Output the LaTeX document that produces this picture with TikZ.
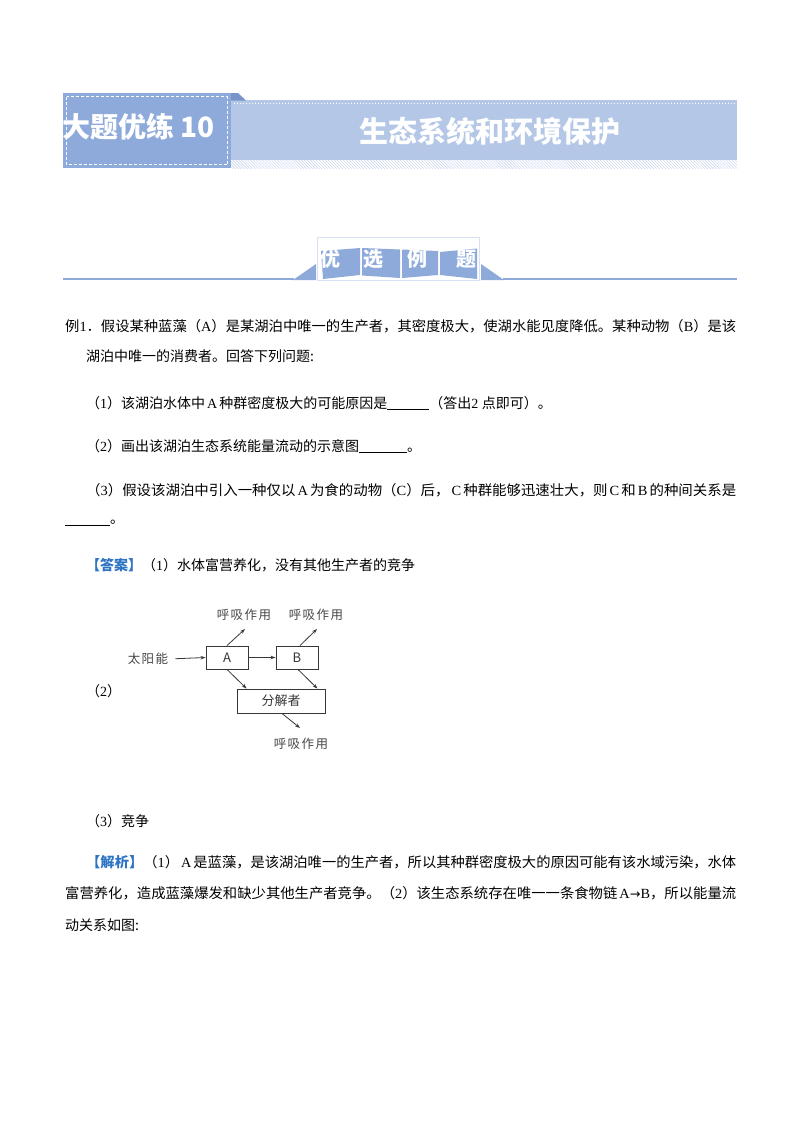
\documentclass[tikz,border=0pt]{standalone}
\usepackage{graphicx}
\usepackage{fontspec}
\setmainfont{Noto Sans CJK SC}
\newfontfamily\tnr{Liberation Serif}
\newfontfamily\djv{DejaVu Sans}
\newfontfamily\dfont[LetterSpace=12]{Noto Sans CJK SC}
\usetikzlibrary{arrows.meta,patterns}
\newcommand{\jline}[2]{\resizebox{#1}{\height}{#2}}
\newcommand{\tm}[1]{{\tnr #1}}
\newcommand{\tms}[1]{\hspace{2bp}{\tnr #1}\hspace{2bp}}
\newcommand{\blank}[1]{\rule[-1.5bp]{#1}{0.6bp}}
\definecolor{hdark}{RGB}{142,170,219}
\definecolor{hlight}{RGB}{180,199,231}
\definecolor{hfold}{RGB}{120,148,200}
\definecolor{ansblue}{RGB}{46,116,196}
\definecolor{dline}{RGB}{55,55,55}
\definecolor{dtext}{RGB}{70,70,70}
\tikzset{
  body/.style={anchor=west, inner sep=0pt, font=\fontsize{14bp}{17bp}\selectfont},
  hdtext/.style={text=white, inner sep=0pt, font=\bfseries\fontsize{28bp}{30bp}\selectfont},
  sectext/.style={text=white, inner sep=0pt, font=\bfseries\fontsize{20bp}{22bp}\selectfont},
  dbox/.style={draw=dline, line width=0.9bp, inner sep=0pt, text=dline, font=\fontsize{13bp}{15bp}\selectfont},
  dlab/.style={inner sep=0pt, text=dtext, font=\dfont\fontsize{12.5bp}{14bp}\selectfont},
  arr/.style={draw=dline, line width=0.8bp, -{Stealth[length=5bp,width=3.5bp]}}
}
\begin{document}
\begin{tikzpicture}[x=1bp,y=-1bp]
\useasboundingbox (0,0) rectangle (800,1132);
\fill[white] (0,0) rectangle (800,1132);

% ---------- header ----------
\fill[hlight] (231,100) rectangle (737,160);
\fill[pattern=north west lines, pattern color=hlight!80] (231,160) rectangle (737,168);
\draw[white, dotted, line width=1bp] (234,103.5) -- (737,103.5);
\fill[hfold] (230,93) -- (238,93) -- (246,100.5) -- (230,100.5) -- cycle;
\fill[hdark] (63,93) rectangle (231,168);
\draw[white, dash pattern=on 3bp off 2bp, line width=0.8bp] (66.5,96.5) rectangle (227.5,164.5);
\node[hdtext, anchor=west] (h1) at (62,127) {大题优练 10};
\node[hdtext, font=\bfseries\fontsize{29bp}{31bp}\selectfont] (h2) at (490,131) {生态系统和环境保护};

% ---------- section banner ----------
\draw[hdark, line width=2bp] (63,279) -- (294,279);
\fill[hdark] (293,280) -- (316,264) -- (316,280) -- cycle;
\fill[hdark] (481,264) -- (504,280) -- (481,280) -- cycle;
\draw[hdark, line width=2bp] (503,279) -- (737,279);
\draw[hdark!35, line width=0.8bp] (317,237) rectangle (479,280);
\fill[hdark] (321,251) -- (360,248) -- (360,275) -- (323,279) -- cycle;
\fill[hdark] (362,248) -- (400,249.5) -- (400,278) -- (362,275.5) -- cycle;
\fill[hdark] (402,249.5) -- (438,251) -- (438,275) -- (402,278) -- cycle;
\fill[hdark] (440,252) -- (477,248.5) -- (477,279) -- (440,275) -- cycle;
\begin{scope}
\clip (321,238) rectangle (478,282);
\node[sectext] (s1) at (330,259) {优};
\node[sectext] (s2) at (373,259) {选};
\node[sectext] (s3) at (417,259) {例};
\node[sectext] (s4) at (466,259) {题};
\end{scope}

% ---------- question ----------
\node[body] (l1) at (65,326) {\jline{671bp}{例\tm{1}．假设某种蓝藻（\tm{A}）是某湖泊中唯一的生产者，其密度极大，使湖水能见度降低。某种动物（\tm{B}）是该}};
\node[body] (l2) at (86,356) {湖泊中唯一的消费者。回答下列问题:};
\node[body] (l3) at (86,403) {（\tm{1}）该湖泊水体中\tms{A}种群密度极大的可能原因是\blank{42bp}（答出\tm{2 }点即可）。};
\node[body] (l4) at (86,446) {（\tm{2}）画出该湖泊生态系统能量流动的示意图\blank{48bp}。};
\node[body] (l5) at (86,490) {\jline{650bp}{（\tm{3}）假设该湖泊中引入一种仅以\tms{A}为食的动物（\tm{C}）后，\tms{C}种群能够迅速壮大，则\tms{C}和\tms{B}的种间关系是}};
\node[body] (l6) at (65,523) {\blank{45bp}。};

% ---------- answer ----------
\node[body] (l7) at (86,565) {{\color{ansblue}\bfseries 【答案】}（\tm{1}）水体富营养化，没有其他生产者的竞争};
\node[body] (q2) at (86,691) {（\tm{2}）};

% diagram
\node[dlab] (S) at (148,659) {太阳能};
\node[dbox, minimum width=42bp, minimum height=23bp] (A) at (227,657.5) {A};
\node[dbox, minimum width=42bp, minimum height=23bp] (B) at (297,657.5) {B};
\node[dbox, minimum width=88bp, minimum height=24bp] (D) at (281,701) {分解者};
\node[dlab] (R1) at (244,615) {呼吸作用};
\node[dlab] (R2) at (316,615) {呼吸作用};
\node[dlab] (R3) at (301,744) {呼吸作用};
\coordinate (r1e) at (245,629);
\coordinate (r2e) at (317,629);
\coordinate (r3e) at (300,728);
\draw[arr, shorten <=7bp] (S.east) -- (A.west);
\draw[arr] (A.east) -- (B.west);
\draw[arr] (A.north) -- (r1e);
\draw[arr] ([xshift=3bp]B.north) -- (r2e);
\draw[arr] (A.south) -- ([xshift=10bp]D.north west);
\draw[arr] ([xshift=1bp]B.south) -- ([xshift=-8bp]D.north east);
\draw[arr] ([xshift=1bp]D.south) -- (r3e);

\node[body] (l8) at (86,821) {（\tm{3}）竞争};

% ---------- analysis ----------
\node[body] (l9) at (86,862) {\jline{650bp}{{\color{ansblue}\bfseries 【解析】}（\tm{1}）\tms{A}是蓝藻，是该湖泊唯一的生产者，所以其种群密度极大的原因可能有该水域污染，水体}};
\node[body] (l10) at (65,893) {\jline{671bp}{富营养化，造成蓝藻爆发和缺少其他生产者竞争。（\tm{2}）该生态系统存在唯一一条食物链\hspace{2bp}\tm{A}{\djv\fontsize{12.5bp}{14bp}\selectfont →}\tm{B}，所以能量流}};
\node[body] (l11) at (65,925) {动关系如图:};
\end{tikzpicture}
\end{document}
